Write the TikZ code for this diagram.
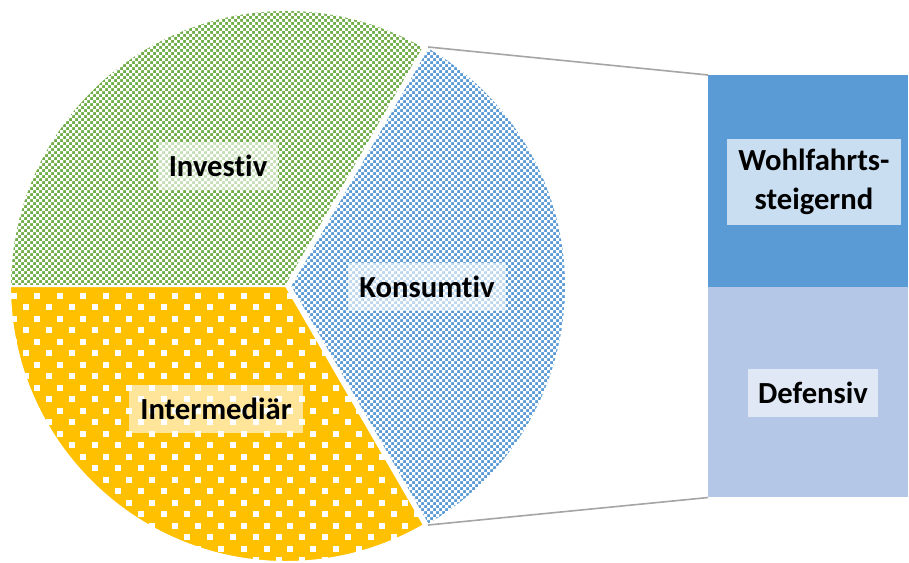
\documentclass[tikz,border=0pt]{standalone}
\usepackage{fontspec}
\setmainfont{Carlito}[Ligatures=NoCommon]
\usetikzlibrary{patterns,calc}
\pgfdeclarepatternformonly{bigdots}{\pgfqpoint{0pt}{0pt}}{\pgfqpoint{17.25pt}{17.25pt}}{\pgfqpoint{17.25pt}{17.25pt}}{%
  \pgfpathrectangle{\pgfqpoint{0pt}{0pt}}{\pgfqpoint{4.5pt}{4.5pt}}%
  \pgfpathrectangle{\pgfqpoint{8.625pt}{8.625pt}}{\pgfqpoint{4.5pt}{4.5pt}}%
  \pgfusepath{fill}}
\definecolor{cgreen}{HTML}{70AD47}
\definecolor{cblue}{HTML}{5B9BD5}
\definecolor{cyellow}{HTML}{FFC000}
\definecolor{clight}{HTML}{B4C7E7}
\definecolor{cline}{HTML}{A5A5A5}
\begin{document}
\begin{tikzpicture}[x=0.75pt,y=0.75pt,
  lbl/.style={font=\fontsize{23}{29}\selectfont\bfseries, fill=white, fill opacity=0.6, text opacity=1, inner sep=0pt, minimum height=36pt},
  sep/.style={draw=white, line width=1.5pt},
  barbox/.style={inner sep=0pt, minimum width=150pt, anchor=north west},
  conn/.style={draw=cline, line width=1.2pt}]
\useasboundingbox (0,0) rectangle (909,562);
% slices
\coordinate (c) at (286,276);
\coordinate (ck) at (290,276);
% Investiv
\begin{scope}
\clip (c) -- ++(60:276) arc[start angle=60, end angle=180, radius=276] -- cycle;
\fill[cgreen] (0,270) rectangle (440,562);
\fill[white, even odd rule]
  \foreach \yy in {270,276,...,562} {(0,\yy) rectangle (440,\yy+3)}
  \foreach \xx in {0,6,...,440} {(\xx,270) rectangle (\xx+3,562)};
\end{scope}
\path[sep] (c) -- ++(60:276) arc[start angle=60, end angle=180, radius=276] -- cycle;
% Intermediaer
\path[fill=cyellow] (c) -- ++(180:276) arc[start angle=180, end angle=300, radius=276] -- cycle;
\path[pattern=bigdots, pattern color=white] (c) -- ++(180:276) arc[start angle=180, end angle=300, radius=276] -- cycle;
\path[sep] (c) -- ++(180:276) arc[start angle=180, end angle=300, radius=276] -- cycle;
% Konsumtiv
\begin{scope}
\clip (ck) -- ++(-60:276) arc[start angle=-60, end angle=60, radius=276] -- cycle;
\fill[cblue] (286,0) rectangle (572,562);
\fill[white, even odd rule]
  \foreach \yy in {0,6,...,562} {(286,\yy) rectangle (572,\yy+3)}
  \foreach \xx in {286,292,...,572} {(\xx,0) rectangle (\xx+3,562)};
\end{scope}
\path[sep] (ck) -- ++(-60:276) arc[start angle=-60, end angle=60, radius=276] -- cycle;
\coordinate (ktop) at ($(ck)+(60:276)$);
\coordinate (kbot) at ($(ck)+(-60:276)$);
% bar
\node[barbox, fill=cblue, minimum height=159pt] (wohl) at (708,487) {};
\node[barbox, fill=clight, minimum height=157.5pt] (def) at (708,275) {};
% connectors
\draw[conn] (ktop) -- (wohl.north west);
\draw[conn] (kbot) -- (def.south west);
% labels
\node[lbl, minimum width=90pt] (inv) at (218,396) {Investiv};
\node[lbl, minimum width=119pt] (kon) at (427,275) {Konsumtiv};
\node[lbl, minimum width=130pt] (int) at (216,153) {Intermediär};
\node[lbl, minimum width=131pt, minimum height=65pt, align=center, fill opacity=0.68] (wtext) at (814,380) {Wohlfahrts-\\steigernd};
\node[lbl, minimum width=98pt] (dtext) at (813,169) {Defensiv};
\end{tikzpicture}
\end{document}
